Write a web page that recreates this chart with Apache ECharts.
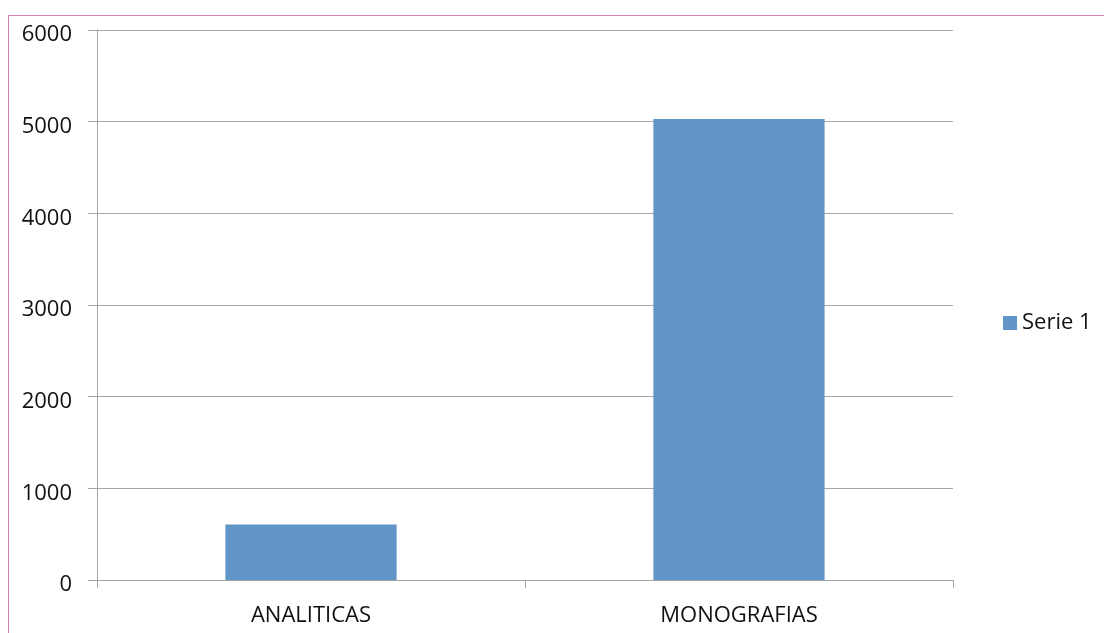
<!DOCTYPE html>
<html>
<head>
<meta charset="utf-8">
<script src="https://cdn.jsdelivr.net/npm/echarts@6/dist/echarts.min.js"></script>
<style>
  html, body { margin: 0; padding: 0; background: #fff; }
  #wrap { position: relative; width: 1104px; height: 633px; overflow: hidden; }
  /* pink frame of the original slide, only left and top edges visible */
  #frame { position: absolute; left: 8px; top: 15px; width: 2000px; height: 2000px;
           border-left: 1px solid #dc7fb1; border-top: 1px solid #dc7fb1; box-sizing: border-box; }
  #chart { position: absolute; left: 0; top: 0; width: 1104px; height: 633px; }
</style>
</head>
<body>
<div id="wrap">
  <div id="frame"></div>
  <div id="chart"></div>
</div>
<script>
// datos
const categories = ['ANALITICAS', 'MONOGRAFIAS']
const serie1 = [605, 5030]
const seriesName = 'Serie 1'

const chart = echarts.init(document.getElementById('chart'))

const gray = '#a6a6a6'
const font = '"Open Sans", sans-serif'

chart.setOption({
  animation: false,
  grid: { left: 97, right: 151, top: 30, bottom: 53 },
  legend: {
    data: [seriesName],
    left: 998,
    top: 307,
    icon: 'rect',
    itemWidth: 14,
    itemHeight: 14,
    textStyle: { fontFamily: font, fontSize: 22, color: '#111' }
  },
  xAxis: {
    type: 'category',
    data: categories,
    axisLine: { lineStyle: { color: gray, width: 1 } },
    axisTick: { show: true, length: 8, lineStyle: { color: gray } },
    axisLabel: { fontFamily: font, fontSize: 22, color: '#111', margin: 25 }
  },
  yAxis: {
    type: 'value',
    min: 0,
    max: 6000,
    interval: 1000,
    axisLine: { show: true, lineStyle: { color: gray, width: 1 } },
    axisTick: { show: true, length: 9, lineStyle: { color: gray } },
    axisLabel: {
      fontFamily: font, fontSize: 22, color: '#111', margin: 25,
      verticalAlign: 'top', lineHeight: 10,
      formatter: (v) => String(v)
    },
    splitLine: { show: true, lineStyle: { color: gray, width: 1 } }
  },
  series: [{
    name: seriesName,
    type: 'bar',
    barWidth: '40%',
    itemStyle: { color: '#6195c8' },
    data: serie1
  }]
})
</script>
</body>
</html>
